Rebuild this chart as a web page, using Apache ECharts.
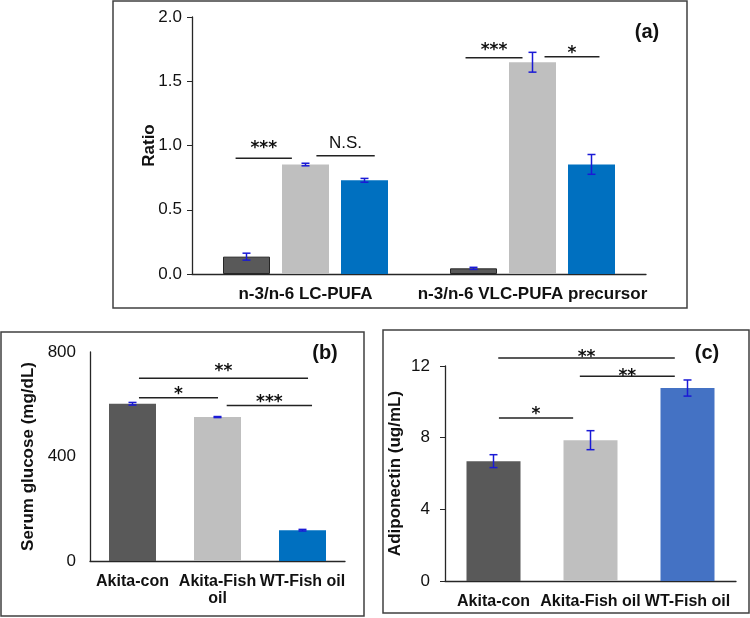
<!DOCTYPE html>
<html><head><meta charset="utf-8">
<script src="https://cdn.jsdelivr.net/npm/echarts@6/dist/echarts.min.js"></script>
<style>html,body{margin:0;padding:0;background:#fff}#c{width:750px;height:618px}</style>
</head><body><div id="c"></div>
<script>
// ---------- data ----------
const groupsA = ['n-3/n-6 LC-PUFA', 'n-3/n-6 VLC-PUFA precursor'];
const seriesNamesA = ['Akita-con', 'Akita-Fish oil', 'WT-Fish oil'];
const akitaConA = [0.135, 0.044];
const akitaFishA = [0.852, 1.648];
const wtFishA = [0.729, 0.853];
const akitaConErrA = [0.027, 0.008];
const akitaFishErrA = [0.010, 0.077];
const wtFishErrA = [0.015, 0.077];
const ticksA = [0, 0.5, 1.0, 1.5, 2.0];

const groupsBC = ['Akita-con', 'Akita-Fish oil', 'WT-Fish oil'];
const glucose = [602, 551, 118];
const glucoseErr = [5, 2, 3];
const ticksB = [0, 400, 800];
const adiponectin = [6.69, 7.86, 10.77];
const adiponectinErr = [0.36, 0.53, 0.45];
const ticksC = [0, 4, 8, 12];

// significance brackets: [from, to] in category units, height in data units, label
const sigA = [[-0.308, -0.060, 0.90, '***'], [0.048, 0.305, 0.92, 'N.S.'], [0.705, 0.956, 1.683, '***'], [1.053, 1.295, 1.69, '*']];
const sigB = [[0.076, 2.065, 700, '**'], [0.076, 1.006, 625, '*'], [1.108, 2.112, 595, '***']];
const sigC = [[0.049, 1.869, 12.45, '**'], [0.890, 1.869, 11.43, '**'], [0.056, 0.821, 9.10, '*']];

// ---------- styles ----------
const FONT = '"Liberation Sans", Arial, sans-serif';
const DARK = '#595959', GRAY = '#bfbfbf', BLUE = '#0070c0', BLUE_C = '#4472c4';
const ERR = '#1a1ad6';
const AXIS = '#262626';
const gapA = [13.7, 12.6, 11, 7.4], gapB = [11, 7, 7], gapC = [4.7, 4, 7.7];

function errSeries(g, means, errs, offsetPx, cap) {
  return {
    type: 'custom', xAxisIndex: g, yAxisIndex: g, z: 10, silent: true,
    data: means.map((m, i) => [i, m, errs[i]]),
    renderItem(params, api) {
      const i = api.value(0), m = api.value(1), e = api.value(2);
      const t = api.coord([i, m + e]), b = api.coord([i, m - e]);
      const x = t[0] + offsetPx;
      const st = { stroke: ERR, lineWidth: 1.5 };
      return { type: 'group', children: [
        { type: 'line', shape: { x1: x, y1: t[1], x2: x, y2: b[1] }, style: st },
        { type: 'line', shape: { x1: x - cap, y1: t[1], x2: x + cap, y2: t[1] }, style: st },
        { type: 'line', shape: { x1: x - cap, y1: b[1], x2: x + cap, y2: b[1] }, style: st }
      ] };
    }
  };
}

function sigSeries(g, sig, gaps) {
  return {
    type: 'custom', xAxisIndex: g, yAxisIndex: g, z: 5, clip: false, silent: true,
    data: sig.map(s => [0, s[2]]),
    renderItem(params, api) {
      const s = sig[params.dataIndex];
      const base = api.coord([0, s[2]]);
      const cw = api.size([1, 0])[0];
      const x1 = base[0] + s[0] * cw, x2 = base[0] + s[1] * cw, y = base[1];
      const star = s[3].indexOf('*') >= 0;
      return { type: 'group', children: [
        { type: 'line', shape: { x1: x1, y1: y, x2: x2, y2: y }, style: { stroke: '#222', lineWidth: 1.5 } },
        { type: 'text', x: (x1 + x2) / 2, y: y - gaps[params.dataIndex] + (star ? 4 : 0),
          style: { text: s[3], font: star ? 'bold 17px "DejaVu Sans"' : '17px ' + FONT, fill: '#111', align: 'center', verticalAlign: 'middle' } }
      ] };
    }
  };
}

function yAxis(g, ticks, name, gap, margin, showTick, fmt) {
  return {
    type: 'value', gridIndex: g, min: ticks[0], max: ticks[ticks.length - 1], interval: ticks[1] - ticks[0],
    splitLine: { show: false },
    axisLine: { show: true, lineStyle: { color: AXIS, width: 1.3 } },
    axisTick: { show: showTick, length: 5, lineStyle: { color: AXIS } },
    axisLabel: { fontSize: 17, fontFamily: FONT, color: '#111', margin: margin, formatter: fmt },
    name: name, nameLocation: 'middle', nameGap: gap, nameMoveOverlap: false,
    nameTextStyle: { fontSize: 17, fontWeight: 'bold', fontFamily: FONT, color: '#111' }
  };
}
function xAxis(g, cats, fs, fmt) {
  return {
    type: 'category', gridIndex: g, data: cats,
    axisLine: { show: true, lineStyle: { color: AXIS, width: 1.3 } },
    axisTick: { show: false },
    axisLabel: { interval: 0, fontSize: fs, fontWeight: 'bold', fontFamily: FONT, color: '#111', margin: 12,
      lineHeight: 17, formatter: fmt }
  };
}
// panel (b): narrow categories, the middle label wraps onto two lines
const wrapMiddle = (v, i) => (i === 1 ? v.replace(' ', '\n') : v);

const chart = echarts.init(document.getElementById('c'), null, { renderer: 'canvas' });
chart.setOption({
  animation: false,
  backgroundColor: '#fff',
  grid: [
    { left: 192, top: 17, width: 454, height: 257 },
    { left: 90, top: 352, width: 255, height: 209 },
    { left: 445, top: 366, width: 291, height: 215 }
  ],
  xAxis: [xAxis(0, groupsA, 17), xAxis(1, groupsBC, 16, wrapMiddle), xAxis(2, groupsBC, 16)],
  yAxis: [
    yAxis(0, ticksA, 'Ratio', 34, 10, true, v => v.toFixed(1)),
    yAxis(1, ticksB, 'Serum glucose (mg/dL)', 53, 14, false, v => String(v)),
    yAxis(2, ticksC, 'Adiponectin (ug/mL)', 41, 15, true, v => String(v))
  ],
  graphic: [
    { type: 'rect', shape: { x: 113, y: 1, width: 574, height: 307 }, style: { fill: 'none', stroke: '#404040', lineWidth: 1.5 } },
    { type: 'rect', shape: { x: 1, y: 332, width: 363, height: 284 }, style: { fill: 'none', stroke: '#404040', lineWidth: 1.5 } },
    { type: 'rect', shape: { x: 383, y: 330, width: 366, height: 283 }, style: { fill: 'none', stroke: '#404040', lineWidth: 1.5 } },
    { type: 'text', x: 647, y: 32, style: { text: '(a)', font: 'bold 20px ' + FONT, fill: '#111', align: 'center', verticalAlign: 'middle' } },
    { type: 'text', x: 325, y: 353, style: { text: '(b)', font: 'bold 20px ' + FONT, fill: '#111', align: 'center', verticalAlign: 'middle' } },
    { type: 'text', x: 707, y: 353, style: { text: '(c)', font: 'bold 20px ' + FONT, fill: '#111', align: 'center', verticalAlign: 'middle' } }
  ],
  series: [
    { type: 'bar', name: seriesNamesA[0], xAxisIndex: 0, yAxisIndex: 0, data: akitaConA, barWidth: 47, barGap: (12 / 47 * 100) + '%',
      itemStyle: { color: DARK, borderColor: '#262626', borderWidth: 1 } },
    { type: 'bar', name: seriesNamesA[1], xAxisIndex: 0, yAxisIndex: 0, data: akitaFishA, barWidth: 47, itemStyle: { color: GRAY } },
    { type: 'bar', name: seriesNamesA[2], xAxisIndex: 0, yAxisIndex: 0, data: wtFishA, barWidth: 47, itemStyle: { color: BLUE } },
    errSeries(0, akitaConA, akitaConErrA, -59, 4),
    errSeries(0, akitaFishA, akitaFishErrA, 0, 4),
    errSeries(0, wtFishA, wtFishErrA, 59, 4),
    sigSeries(0, sigA, gapA),

    { type: 'bar', xAxisIndex: 1, yAxisIndex: 1, data: glucose, barWidth: 47,
      itemStyle: { color: p => [DARK, GRAY, BLUE][p.dataIndex] } },
    errSeries(1, glucose, glucoseErr, 0, 4),
    sigSeries(1, sigB, gapB),

    { type: 'bar', xAxisIndex: 2, yAxisIndex: 2, data: adiponectin, barWidth: 54,
      itemStyle: { color: p => [DARK, GRAY, BLUE_C][p.dataIndex] } },
    errSeries(2, adiponectin, adiponectinErr, 0, 4),
    sigSeries(2, sigC, gapC)
  ]
});
</script></body></html>
